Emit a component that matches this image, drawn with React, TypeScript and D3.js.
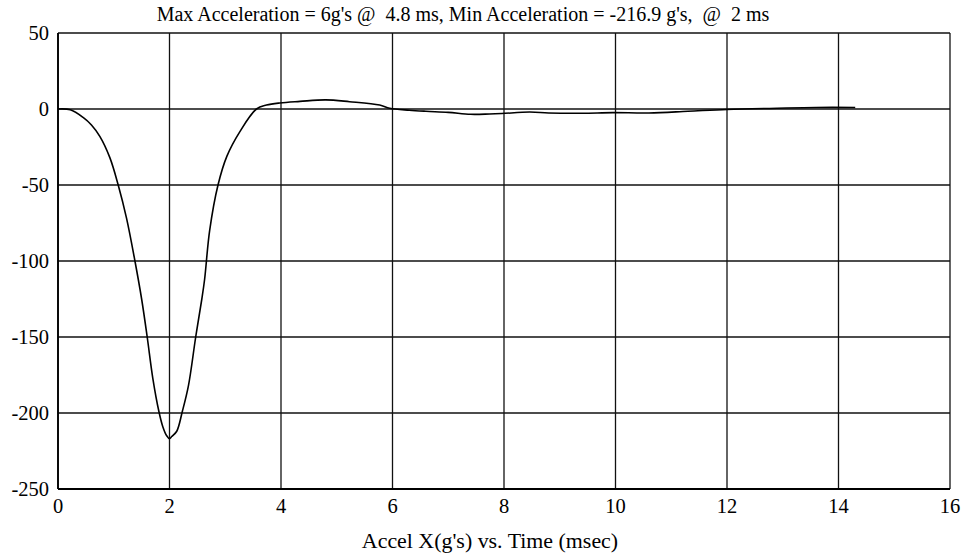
import React from "react";
import * as d3 from "d3";

// Acceleration trace (time in ms, acceleration in g's)
const timeMs: number[] = [
  0, 0.22, 0.45, 0.6, 0.75, 0.93, 1.08, 1.23, 1.38, 1.5, 1.6, 1.7, 1.81, 1.88, 1.95, 2.0,
  2.04, 2.13, 2.23, 2.34, 2.47, 2.58, 2.63, 2.72, 2.87, 3.03, 3.26, 3.56, 3.74, 3.98, 4.34,
  4.8, 5.23, 5.77, 5.95, 6.3, 6.6, 7.0, 7.4, 7.74, 7.96, 8.46, 8.8, 9.4, 9.95, 10.6, 11.3,
  12.0, 12.9, 13.6, 14.3,
];
const accelG: number[] = [
  0, -0.5, -5.5, -10.5, -18, -32, -50, -72, -100, -125, -150, -177, -199, -209, -215, -216.9,
  -215.5, -212, -199, -182, -150, -125, -112, -80, -50, -31, -15, 0, 2.6, 4, 5,
  6, 4.8, 2.6, 0.5, -0.8, -1.5, -2.2, -3.5, -3.3, -3, -2, -2.6, -2.8, -2.4, -2.6, -1.5,
  -0.3, 0.5, 1, 1,
];

const xTicks: number[] = [0, 2, 4, 6, 8, 10, 12, 14, 16];
const yTicks: number[] = [50, 0, -50, -100, -150, -200, -250];

const titleText = "Max Acceleration = 6g's @  4.8 ms, Min Acceleration = -216.9 g's,  @  2 ms";
const xLabelText = "Accel X(g's) vs. Time (msec)";

const W = 967;
const H = 559;
const left = 58;
const right = 950;
const top = 33;
const bottom = 489;
const font = "Liberation Serif, Times New Roman, serif";

export default function App() {
  const x = d3.scaleLinear().domain([0, 16]).range([left, right]);
  const y = d3.scaleLinear().domain([-250, 50]).range([bottom, top]);

  const pts: [number, number][] = timeMs.map((t, i) => [t, accelG[i]]);
  const line = d3
    .line<[number, number]>()
    .x((d) => x(d[0]))
    .y((d) => y(d[1]))
    .curve(d3.curveCatmullRom.alpha(0.5));

  return (
    <svg
      width={W}
      height={H}
      style={{ position: "absolute", left: 0, top: 0, background: "#fff" }}
    >
      <rect x={0} y={0} width={W} height={H} fill="#fff" />
      {/* horizontal grid */}
      {yTicks.map((v) => (
        <line
          key={"h" + v}
          x1={left}
          x2={right}
          y1={y(v)}
          y2={y(v)}
          stroke="#111"
          strokeWidth={1.3}
        />
      ))}
      {/* vertical grid */}
      {xTicks.map((v) => (
        <line
          key={"v" + v}
          x1={x(v)}
          x2={x(v)}
          y1={top}
          y2={bottom}
          stroke="#111"
          strokeWidth={1.3}
        />
      ))}
      {/* axis frame */}
      <line x1={left} x2={left} y1={top} y2={bottom} stroke="#000" strokeWidth={1.8} />
      <line x1={left} x2={right} y1={bottom} y2={bottom} stroke="#000" strokeWidth={1.8} />

      {/* y tick labels */}
      {yTicks.map((v) => (
        <text
          key={"yl" + v}
          x={49}
          y={y(v)}
          dy="0.35em"
          textAnchor="end"
          fontFamily={font}
          fontSize={20.5}
          fill="#000"
        >
          {v}
        </text>
      ))}
      {/* x tick labels */}
      {xTicks.map((v) => (
        <text
          key={"xl" + v}
          x={x(v)}
          y={513}
          textAnchor="middle"
          fontFamily={font}
          fontSize={20.5}
          fill="#000"
        >
          {v}
        </text>
      ))}

      {/* data trace */}
      <path d={line(pts) || ""} fill="none" stroke="#000" strokeWidth={1.6} />

      <text
        x={463}
        y={21}
        textAnchor="middle"
        fontFamily={font}
        fontSize={20}
        fill="#000"
        style={{ whiteSpace: "pre" }}
      >
        {titleText}
      </text>
      <text
        x={490}
        y={548}
        textAnchor="middle"
        fontFamily={font}
        fontSize={21.9}
        fill="#000"
      >
        {xLabelText}
      </text>
    </svg>
  );
}
